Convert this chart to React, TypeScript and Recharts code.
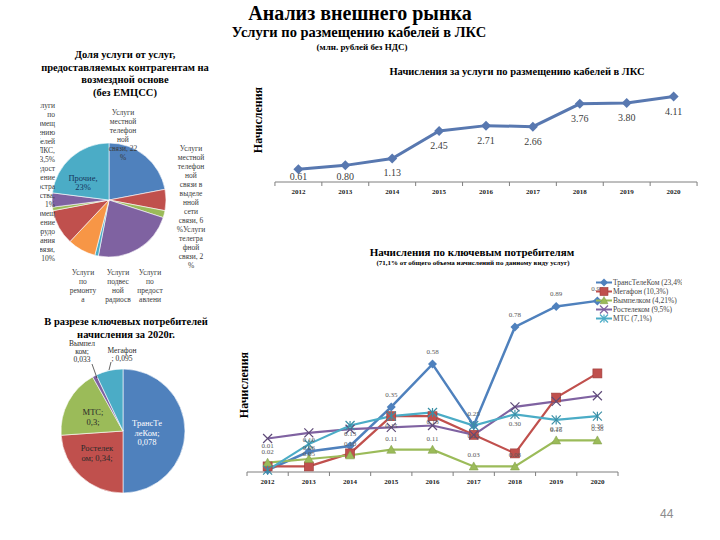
import React from 'react';
import { LineChart, Line, XAxis, YAxis, PieChart, Pie, Cell, LabelList } from 'recharts';

const FONT = "'Liberation Serif', 'Times New Roman', serif";

// years on both line charts
const YEARS = ['2012', '2013', '2014', '2015', '2016', '2017', '2018', '2019', '2020'];

// top-right: total accruals
const TOTAL = [0.61, 0.8, 1.13, 2.45, 2.71, 2.66, 3.76, 3.8, 4.11];

// bottom-right: key clients
const TTK = [0.01, 0.11, 0.14, 0.35, 0.58, 0.25, 0.78, 0.89, 0.92];
const MEGAFON = [0.03, 0.03, 0.1, 0.3, 0.3, 0.2, 0.1, 0.4, 0.53];
const VYMPELKOM = [0.05, 0.07, 0.09, 0.12, 0.12, 0.03, 0.03, 0.17, 0.17];
const ROSTELECOM = [0.18, 0.21, 0.23, 0.24, 0.25, 0.2, 0.35, 0.38, 0.41];
const MTS = [0.01, 0.15, 0.25, 0.3, 0.32, 0.25, 0.31, 0.28, 0.3];

const TTK_LABELS = ['', '0.10', '0.13', '0.35', '0.58', '0.25', '0.78', '0.89', '0.92'];
const VYMPELKOM_LABELS = ['0.02', '0.06', '0.10', '0.11', '0.11', '0.03', '0.08', '0.27', '0.38'];
const MTS_LABELS = ['', '0.05', '', '0.15', '0.13', '0.23', '0.30', '0.16', '0.36'];
const ROSTELECOM_LABELS = ['0.01', '', '', '', '', '', '', '', ''];

const SERIES_NAMES = ['ТрансТелеКом (23,4%)', 'Мегафон (10,3%)', 'Вымпелком (4,21%)', 'Ростелеком (9,5%)', 'МТС (7,1%)'];

// top-left pie: share of services
const SERVICE_SHARES = [22, 6, 2, 23, 1, 8, 10, 1, 4, 23];
const SERVICE_LABEL_LINES = [
  ['Услуги', 'местной', 'телефон', 'ной', 'связи, 22', '%'],
  ['Услуги', 'местной', 'телефон', 'ной', 'связи в', 'выделе', 'нной', 'сети', 'связи, 6'],
  ['%Услуги', 'телегра', 'фной', 'связи, 2', '%'],
  ['Услуги', 'по', 'предост', 'авлени'],
  ['Услуги', 'подвес', 'ной', 'радиосв'],
  ['Услуги', 'по', 'ремонту', 'а'],
  ['Размещ', 'ение', 'оборудо', 'вания', 'связи,', '10%'],
  ['Предост', 'авление', 'простра', 'нства,', '1%'],
  ['Услуги', 'по', 'размещ', 'ению', 'кабелей', 'в ЛКС,', '3,5%'],
  ['Прочие,', '23%'],
];

// bottom-left pie: key clients 2020
const CLIENT_VALUES = [0.92, 0.44, 0.33, 0.02, 0.13];
const CLIENT_LABEL_LINES = [
  ['ТрансТе', 'леКом;', '0,078'],
  ['Ростелек', 'ом; 0,34;'],
  ['МТС;', '0,3;'],
  ['Вымпел', 'ком;', '0,033'],
  ['Мегафон', '; 0,095'],
];

const BLUE = '#4F81BD';
const RED = '#C0504D';
const GREEN = '#9BBB59';
const PURPLE = '#7F62A1';
const TEAL = '#4BACC6';
const ORANGE = '#F79646';

const SERVICE_COLORS = [BLUE, RED, GREEN, PURPLE, TEAL, ORANGE, RED, GREEN, PURPLE, TEAL];
const CLIENT_COLORS = [BLUE, RED, GREEN, PURPLE, TEAL];

// layout of pie labels (page coordinates, first baseline)
const PIE1_LEFT = 40;
const PIE1_TOP = 95;
const PIE1_LABEL_POS = [
  { x: 123, y: 115 },
  { x: 191, y: 151 },
  { x: 191, y: 232 },
  { x: 150, y: 275 },
  { x: 118, y: 275 },
  { x: 83, y: 275 },
  { x: 55, y: 216, anchor: 'end' },
  { x: 55, y: 171, anchor: 'end' },
  { x: 55, y: 108, anchor: 'end' },
  { x: 83, y: 181, color: '#17375E', size: 8.5 },
];

const PIE2_LEFT = 40;
const PIE2_TOP = 330;
const PIE2_LABEL_POS = [
  { x: 147, y: 426, color: '#fff' },
  { x: 97, y: 451 },
  { x: 93, y: 415 },
  { x: 82, y: 346, leader: [92, 364, 97, 378] },
  { x: 122, y: 353, leader: [111, 362, 109, 370] },
];

const totalData = YEARS.map((year, i) => ({ year, total: TOTAL[i] }));

const clientData = YEARS.map((year, i) => ({
  year,
  ttk: TTK[i],
  megafon: MEGAFON[i],
  vympelkom: VYMPELKOM[i],
  rostelecom: ROSTELECOM[i],
  mts: MTS[i],
  ttkLabel: TTK_LABELS[i],
  vympelkomLabel: VYMPELKOM_LABELS[i],
  mtsLabel: MTS_LABELS[i],
  rostelecomLabel: ROSTELECOM_LABELS[i],
}));

const serviceData = SERVICE_SHARES.map((value, i) => ({ name: SERVICE_LABEL_LINES[i].join(' '), value }));
const clientPieData = CLIENT_VALUES.map((value, i) => ({ name: CLIENT_LABEL_LINES[i][0], value }));

type Kind = 'diamond' | 'square' | 'triangle' | 'cross' | 'star';

const Marker = ({ kind, cx, cy, color, s }: { kind: Kind; cx: number; cy: number; color: string; s: number }) => {
  if (cx == null || cy == null) return null;
  if (kind === 'diamond') {
    return <path d={`M${cx},${cy - s}L${cx + s},${cy}L${cx},${cy + s}L${cx - s},${cy}Z`} fill={color} />;
  }
  if (kind === 'square') {
    return <rect x={cx - s} y={cy - s} width={s * 2} height={s * 2} fill={color} stroke="#9c3b38" strokeWidth={0.6} />;
  }
  if (kind === 'triangle') {
    return <path d={`M${cx},${cy - s}L${cx + s},${cy + s * 0.8}L${cx - s},${cy + s * 0.8}Z`} fill={color} stroke="#7f9a47" strokeWidth={0.5} />;
  }
  if (kind === 'cross') {
    return (
      <g stroke={color} strokeWidth={1.2}>
        <line x1={cx - s} y1={cy - s} x2={cx + s} y2={cy + s} />
        <line x1={cx - s} y1={cy + s} x2={cx + s} y2={cy - s} />
      </g>
    );
  }
  return (
    <g stroke={color} strokeWidth={1.2}>
      <line x1={cx - s} y1={cy - s} x2={cx + s} y2={cy + s} />
      <line x1={cx - s} y1={cy + s} x2={cx + s} y2={cy - s} />
      <line x1={cx} y1={cy - s} x2={cx} y2={cy + s} />
    </g>
  );
};

const dotFor = (kind: Kind, color: string, s: number) => (p: any) => (
  <Marker key={`m-${kind}-${p.index}`} kind={kind} cx={p.cx} cy={p.cy} color={color} s={s} />
);

const smallLabel = (dy: number) => (p: any) => {
  if (!p.value) return null;
  return (
    <text x={p.x} y={p.y + dy} textAnchor="middle" fontSize={7} fill="#595959" fontFamily={FONT}>
      {p.value}
    </text>
  );
};

// year tick with boundary tick marks (band = category width, off = tickSize + tickMargin)
const yearTick = (band: number, off: number) => (p: any) => {
  const idx = p.index != null ? p.index : YEARS.indexOf(p.payload.value);
  const ay = p.y - off;
  return (
    <g>
      <line x1={p.x - band / 2} y1={ay} x2={p.x - band / 2} y2={ay + 4} stroke="#7f7f7f" />
      {idx === YEARS.length - 1 && <line x1={p.x + band / 2} y1={ay} x2={p.x + band / 2} y2={ay + 4} stroke="#7f7f7f" />}
      <text x={p.x} y={ay + 12} textAnchor="middle" fontSize={7} fontWeight="bold" fill="#222" fontFamily={FONT}>
        {p.payload.value}
      </text>
    </g>
  );
};

const PLOT1_AXIS_Y = 122;

const renderServiceLabel = (props: any) => {
  const i = props.index;
  const pos: any = PIE1_LABEL_POS[i];
  const x = pos.x - PIE1_LEFT;
  return (
    <text
      key={`sl-${i}`}
      x={x}
      y={pos.y - PIE1_TOP}
      textAnchor={pos.anchor || 'middle'}
      fontSize={pos.size || 7.5}
      fill={pos.color || '#3a3a3a'}
      fontFamily={FONT}
    >
      {SERVICE_LABEL_LINES[i].map((l, j) => (
        <tspan key={j} x={x} dy={j === 0 ? 0 : 9}>{l}</tspan>
      ))}
    </text>
  );
};

const renderClientLabel = (props: any) => {
  const i = props.index;
  const pos: any = PIE2_LABEL_POS[i];
  const x = pos.x - PIE2_LEFT;
  return (
    <g key={`cl-${i}`}>
      {pos.leader && (
        <line
          x1={pos.leader[0] - PIE2_LEFT}
          y1={pos.leader[1] - PIE2_TOP}
          x2={pos.leader[2] - PIE2_LEFT}
          y2={pos.leader[3] - PIE2_TOP}
          stroke="#222"
          strokeWidth={0.7}
        />
      )}
      <text x={x} y={pos.y - PIE2_TOP} textAnchor="middle" fontSize={i < 3 ? 8.5 : 7.5} fill={pos.color || '#2a2a2a'} fontFamily={FONT}>
        {CLIENT_LABEL_LINES[i].map((l, j) => (
          <tspan key={j} x={x} dy={j === 0 ? 0 : i < 3 ? 9.5 : 8}>{l}</tspan>
        ))}
      </text>
    </g>
  );
};

const legendItems: { kind: Kind; color: string }[] = [
  { kind: 'diamond', color: BLUE },
  { kind: 'square', color: RED },
  { kind: 'triangle', color: GREEN },
  { kind: 'cross', color: PURPLE },
  { kind: 'star', color: TEAL },
];

const Text = ({ cx, cy, size, w, children, bold = true, lh }: any) => (
  <div
    style={{
      position: 'absolute',
      left: cx - w / 2,
      top: cy - (lh || size * 1.15) / 2,
      width: w,
      textAlign: 'center',
      fontSize: size,
      lineHeight: `${lh || size * 1.15}px`,
      fontWeight: bold ? 'bold' : 'normal',
      whiteSpace: 'nowrap',
      color: '#000',
    }}
  >
    {children}
  </div>
);

const VText = ({ cx, cy, size, children }: any) => (
  <div
    style={{
      position: 'absolute',
      left: cx,
      top: cy,
      transform: 'translate(-50%, -50%) rotate(-90deg)',
      fontSize: size,
      fontWeight: 'bold',
      whiteSpace: 'nowrap',
      lineHeight: 1,
    }}
  >
    {children}
  </div>
);

export default function App() {
  return (
    <div
      style={{
        position: 'absolute',
        left: 0,
        top: 0,
        width: 720,
        height: 540,
        background: '#fff',
        overflow: 'hidden',
        fontFamily: FONT,
      }}
    >
      <Text cx={360} cy={13} size={20} w={400}>Анализ внешнего рынка</Text>
      <Text cx={359} cy={32} size={14.5} w={400}>Услуги по размещению кабелей в ЛКС</Text>
      <Text cx={362} cy={47} size={9} w={200}>(млн. рублей без НДС)</Text>

      {/* top-left pie */}
      <div style={{ position: 'absolute', left: 30, top: 49, width: 190, textAlign: 'center', fontWeight: 'bold', fontSize: 10.5, lineHeight: '12.7px' }}>
        Доля услуги от услуг,
        <br />
        предоставляемых контрагентам на
        <br />
        возмездной основе
        <br />
        (без ЕМЦСС)
      </div>
      <div style={{ position: 'absolute', left: PIE1_LEFT, top: PIE1_TOP, width: 200, height: 215, overflow: 'hidden' }}>
        <PieChart width={200} height={215} margin={{ top: 0, right: 0, bottom: 0, left: 0 }}>
          <Pie
            data={serviceData}
            dataKey="value"
            nameKey="name"
            cx={69}
            cy={105}
            outerRadius={57}
            startAngle={90}
            endAngle={-270}
            stroke="#fff"
            strokeWidth={0.6}
            labelLine={false}
            label={renderServiceLabel}
            isAnimationActive={false}
          >
            {serviceData.map((d, i) => (
              <Cell key={`s-${i}`} fill={SERVICE_COLORS[i]} />
            ))}
          </Pie>
        </PieChart>
      </div>

      {/* bottom-left pie */}
      <Text cx={126} cy={321.5} size={10.5} w={200} lh={13}>
        В разрезе ключевых потребителей
        <br />
        начисления за 2020г.
      </Text>
      <div style={{ position: 'absolute', left: PIE2_LEFT, top: PIE2_TOP, width: 200, height: 175, overflow: 'hidden' }}>
        <PieChart width={200} height={175} margin={{ top: 0, right: 0, bottom: 0, left: 0 }}>
          <Pie
            data={clientPieData}
            dataKey="value"
            nameKey="name"
            cx={83}
            cy={101}
            outerRadius={62}
            startAngle={90}
            endAngle={-270}
            stroke="#fff"
            strokeWidth={0.6}
            labelLine={false}
            label={renderClientLabel}
            isAnimationActive={false}
          >
            {clientPieData.map((d, i) => (
              <Cell key={`c-${i}`} fill={CLIENT_COLORS[i]} />
            ))}
          </Pie>
        </PieChart>
      </div>

      {/* top-right line chart */}
      <Text cx={517} cy={72} size={10.5} w={320}>Начисления за услуги по размещению кабелей в ЛКС</Text>
      <VText cx={258} cy={120} size={12}>Начисления</VText>
      <div style={{ position: 'absolute', left: 240, top: 60 }}>
        <LineChart width={460} height={145} data={totalData} margin={{ top: 18, right: 3, bottom: 0, left: 35 }}>
          <XAxis
            dataKey="year"
            height={23}
            padding={{ left: 23.4, right: 23.4 }}
            interval={0}
            tickLine={false}
            tickSize={5}
            tickMargin={1}
            axisLine={{ stroke: '#7f7f7f' }}
            tick={yearTick(46.9, 6)}
          />
          <YAxis hide domain={[0, 5]} />
          <Line
            type="linear"
            dataKey="total"
            stroke="#5878B0"
            strokeWidth={3}
            dot={dotFor('diamond', '#5878B0', 5)}
            activeDot={false}
            isAnimationActive={false}
          >
            <LabelList
              dataKey="total"
              content={(p: any) => (
                <text
                  x={p.x}
                  y={Math.min(p.y + 18, PLOT1_AXIS_Y - 2)}
                  textAnchor="middle"
                  fontSize={10}
                  fill="#404040"
                  fontFamily={FONT}
                >
                  {Number(p.value).toFixed(2)}
                </text>
              )}
            />
          </Line>
        </LineChart>
      </div>

      {/* bottom-right line chart */}
      <Text cx={472} cy={252} size={11} w={320}>Начисления по ключевым потребителям</Text>
      <Text cx={473} cy={263} size={7} w={320}>(71,1% от общего объема начислений по данному виду услуг)</Text>
      <VText cx={244} cy={385} size={12}>Начисления</VText>
      <div style={{ position: 'absolute', left: 240, top: 270 }}>
        <LineChart width={460} height={220} data={clientData} margin={{ top: 16, right: 82, bottom: 0, left: 7 }}>
          <XAxis
            dataKey="year"
            height={18}
            padding={{ left: 20.6, right: 20.6 }}
            interval={0}
            tickLine={false}
            tickSize={4}
            tickMargin={1}
            axisLine={{ stroke: '#7f7f7f' }}
            tick={yearTick(41.2, 5)}
          />
          <YAxis hide domain={[0, 1]} />
          <Line type="linear" dataKey="ttk" stroke={BLUE} strokeWidth={2.5} dot={dotFor('diamond', BLUE, 4.5)} activeDot={false} isAnimationActive={false}>
            <LabelList dataKey="ttkLabel" content={smallLabel(-10)} />
          </Line>
          <Line type="linear" dataKey="megafon" stroke={RED} strokeWidth={2.2} dot={dotFor('square', RED, 4.5)} activeDot={false} isAnimationActive={false} />
          <Line type="linear" dataKey="vympelkom" stroke={GREEN} strokeWidth={2.2} dot={dotFor('triangle', GREEN, 4.5)} activeDot={false} isAnimationActive={false}>
            <LabelList dataKey="vympelkomLabel" content={smallLabel(-9)} />
          </Line>
          <Line type="linear" dataKey="rostelecom" stroke={PURPLE} strokeWidth={2.2} dot={dotFor('cross', '#5e4a78', 4.5)} activeDot={false} isAnimationActive={false}>
            <LabelList dataKey="rostelecomLabel" content={smallLabel(9)} />
          </Line>
          <Line type="linear" dataKey="mts" stroke={TEAL} strokeWidth={2.2} dot={dotFor('star', '#3b8fa6', 4.5)} activeDot={false} isAnimationActive={false}>
            <LabelList dataKey="mtsLabel" content={smallLabel(12)} />
          </Line>
        </LineChart>
      </div>

      {/* legend */}
      <div style={{ position: 'absolute', left: 596, top: 278, width: 86, overflow: 'hidden' }}>
        {SERIES_NAMES.map((name, i) => (
          <div key={name} style={{ display: 'flex', alignItems: 'center', height: 9, whiteSpace: 'nowrap' }}>
            <svg width={16} height={9} style={{ flex: 'none' }}>
              <line x1={0} y1={4.5} x2={16} y2={4.5} stroke={legendItems[i].color} strokeWidth={2} />
              <Marker kind={legendItems[i].kind} cx={8} cy={4.5} color={legendItems[i].color} s={4} />
            </svg>
            <span style={{ fontSize: 7.5, color: '#444', marginLeft: 1 }}>{name}</span>
          </div>
        ))}
      </div>

      <div style={{ position: 'absolute', left: 660, top: 507, fontSize: 12, color: '#8c8c8c', fontFamily: "'Liberation Sans', Arial, sans-serif" }}>
        44
      </div>
    </div>
  );
}
